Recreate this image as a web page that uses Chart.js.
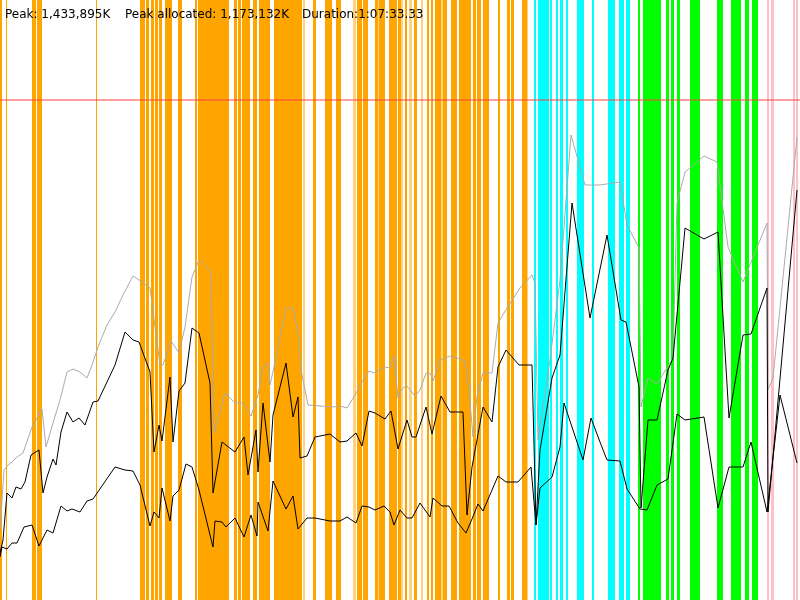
<!DOCTYPE html>
<html>
<head>
<meta charset="utf-8">
<script src="https://cdn.jsdelivr.net/npm/chart.js@4/dist/chart.umd.min.js"></script>
<style>
  html, body { margin: 0; padding: 0; background: #fff; }
  #wrap { width: 800px; height: 600px; }
</style>
</head>
<body>
<div id="wrap"><canvas id="memChart"></canvas></div>
<script>
// ---- data (time in samples, memory in MB) ----
const peakT = [0,4,7,12,17,23,32,42,46,53,60,67,73,80,87,92,98,107,115,123,133,142,150,160,163,171,179,185,192,199,211,214,225,235,243,251,258,263,268,270,274,286,293,298,301,308,333,340,347,355,363,369,374,385,390,394,398,400,406,415,420,426,431,433,440,450,457,465,469,473,477,483,492,498,507,520,532,535,538,550,560,571,578,585,600,620,627,639,641,648,657,673,677,685,704,717,728,743,767,768,773,797];
const peakMB = [210,390,402,414,429,441,519,573,459,531,600,684,693,684,666,705,759,825,864,915,972,954,936,705,705,777,741,819,969,1020,984,501,621,591,591,552,615,699,711,645,699,876,876,801,690,585,579,582,576,615,660,687,681,699,696,732,606,624,645,612,630,681,678,657,720,732,726,717,630,489,612,681,681,831,876,936,975,951,480,720,960,1395,1320,1245,1245,1254,1125,1056,579,666,648,726,1191,1284,1332,1314,1059,954,1131,630,666,1389];

const allocT = [0,3,7,12,16,21,25,31,39,43,47,53,56,61,67,73,79,85,93,98,107,115,125,133,139,150,154,159,162,170,173,179,185,192,199,210,213,222,235,244,248,256,258,263,270,273,286,293,298,300,307,315,330,340,347,356,362,369,375,385,391,398,407,412,416,426,432,441,450,463,467,472,483,492,498,506,519,532,536,540,552,560,572,590,607,621,626,639,641,648,657,668,673,685,704,718,729,743,751,767,768,797];
const allocMB = [141,180,321,306,339,333,354,435,450,321,369,423,405,504,564,534,546,525,594,597,654,705,804,780,774,684,444,525,477,669,474,627,651,816,801,651,321,474,444,489,375,510,384,591,414,555,711,549,609,426,432,489,498,474,477,501,462,567,561,543,567,453,540,489,489,579,498,612,564,564,255,399,579,534,699,750,705,705,225,450,666,735,1191,846,1095,840,834,639,276,540,540,690,726,1116,1083,1104,546,795,798,936,264,1230];

const liveT = [0,2,7,12,17,24,32,39,47,53,61,67,72,80,87,93,115,125,133,140,150,154,159,162,170,173,179,186,192,199,213,215,222,226,235,244,251,257,258,268,273,286,293,298,307,315,330,340,347,356,362,369,375,384,390,394,400,407,412,420,430,433,442,449,458,466,472,478,483,498,506,518,531,536,540,552,560,564,583,591,600,607,620,627,640,647,657,668,677,685,704,718,729,743,751,767,780,797];
const liveMB = [129,159,153,171,171,219,225,162,210,201,282,267,273,264,297,303,399,390,387,345,222,264,246,336,237,312,330,408,399,330,159,237,234,219,246,189,255,192,294,207,357,273,312,213,246,246,237,237,249,231,282,279,270,282,264,225,270,246,246,291,249,306,282,282,231,201,243,288,267,372,354,354,399,225,336,369,459,591,420,546,474,420,417,333,273,270,345,363,558,540,549,276,399,399,474,264,615,411];

const limitMB = 1500;
const timeMax = 800;
const memMax = 1800;

// phase stripes [start, end] in samples
const orangeBands = [[0,1],[6,6],[32,35],[37,41],[96,96],[140,144],[146,148],[151,153],[155,157],[159,161],[165,171],[178,181],[195,196],[198,201],[202,208],[209,215],[216,222],[223,228],[234,236],[238,240],[242,249],[253,256],[259,269],[274,284],[285,293],[294,301],[313,315],[325,329],[330,331],[336,338],[339,340],[357,361],[363,367],[375,377],[379,384],[389,396],[398,400],[405,406],[414,416],[427,428],[431,432],[435,440],[443,446],[451,456],[459,466],[467,470],[473,475],[477,480],[483,488],[498,499],[507,509],[511,513],[522,526]];
const orangeFaintBands = [[303,304],[353,355],[378,378],[401,402],[409,411],[421,422],[441,442],[527,527]];
const cyanBands = [[534,535],[538,540],[541,548],[550,551],[556,557],[560,562],[566,567],[577,583],[592,593],[608,614],[619,620],[621,623],[626,629]];
const greenBands = [[638,639],[643,650],[651,653],[654,657],[658,660],[666,668],[671,673],[677,679],[690,695],[696,699],[717,722],[731,733],[734,738],[739,740],[745,748],[752,757]];
const pinkBands = [[767,768],[771,773],[793,794],[796,797]];

const headerTexts = ['Peak: 1,433,895K', 'Peak allocated: 1,173,132K', 'Duration:1:07:33.33'];
const headerX = [0, 120, 297];

// ---- helpers ----
function pts(ts, vs) {
    return ts.map((t, i) => ({ x: t, y: vs[i] }));
}

// stripes behind the lines
const stripePlugin = {
    id: 'stripes',
    beforeDatasetsDraw(chart) {
        const { ctx, chartArea, scales } = chart;
        const groups = [
            [orangeBands, '#ffa500'],
            [orangeFaintBands, 'rgba(255,165,0,0.5)'],
            [cyanBands, '#00ffff'],
            [greenBands, '#00ff00'],
            [pinkBands, '#ffc0cb']
        ];
        ctx.save();
        groups.forEach(([bands, color]) => {
            ctx.fillStyle = color;
            bands.forEach(([a, b]) => {
                const x0 = scales.x.getPixelForValue(a);
                const x1 = scales.x.getPixelForValue(b + 1);
                ctx.fillRect(x0, chartArea.top, x1 - x0, chartArea.bottom - chartArea.top);
            });
        });
        ctx.restore();
    }
};

// summary line at the top
const headerPlugin = {
    id: 'header',
    afterDraw(chart) {
        const { ctx, chartArea, scales } = chart;
        ctx.save();
        ctx.font = '12px "DejaVu Sans", sans-serif';
        ctx.fillStyle = '#000';
        ctx.textBaseline = 'alphabetic';
        headerTexts.forEach((t, i) => {
            ctx.fillText(t, scales.x.getPixelForValue(headerX[i]) + 5, chartArea.top + 18);
        });
        ctx.restore();
    }
};

const lineStyle = { borderWidth: 1, pointRadius: 0, tension: 0, fill: false };

new Chart(document.getElementById('memChart'), {
    type: 'line',
    data: {
        datasets: [
            { label: 'Live', data: pts(liveT, liveMB), borderColor: '#000', order: 0, ...lineStyle },
            { label: 'Allocated', data: pts(allocT, allocMB), borderColor: '#000', order: 1, ...lineStyle },
            { label: 'Peak', data: pts(peakT, peakMB), borderColor: '#aaaaaa', order: 2, ...lineStyle },
            { label: 'Limit', data: [{ x: 0, y: limitMB }, { x: timeMax, y: limitMB }], borderColor: '#ff4040', order: 3, ...lineStyle }
        ]
    },
    options: {
        responsive: true,
        maintainAspectRatio: false,
        animation: false,
        layout: { padding: 0 },
        scales: {
            x: { type: 'linear', min: 0, max: timeMax, display: false },
            y: { type: 'linear', min: 0, max: memMax, display: false }
        },
        plugins: { legend: { display: false }, tooltip: { enabled: false } }
    },
    plugins: [stripePlugin, headerPlugin]
});
</script>
</body>
</html>
